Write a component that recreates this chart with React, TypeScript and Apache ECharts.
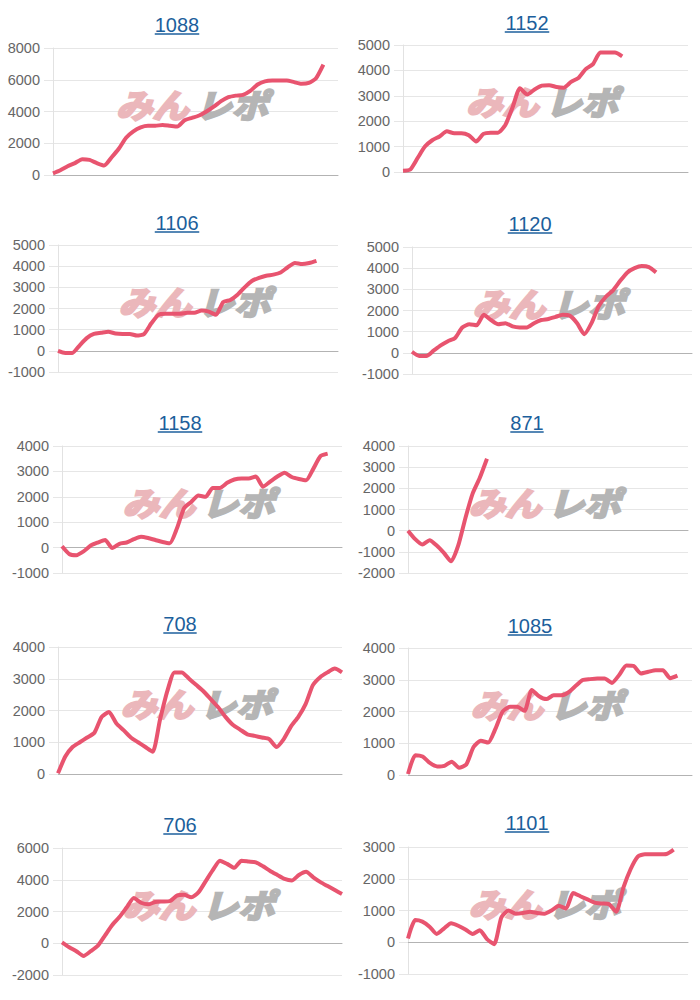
import React, { useEffect, useRef } from "react";
import * as echarts from "echarts";

// ---- data ----
const categories: string[] = Array.from({ length: 40 }, (_, i) => String(i + 1));

const titles = ["1088", "1152", "1106", "1120", "1158", "871", "708", "1085", "706", "1101"];

const s1088 = [100, 300, 550, 750, 1000, 950, 750, 600, 1100, 1650, 2350, 2750, 3000, 3100, 3100, 3150, 3100, 3050, 3450, 3600, 3750, 4000, 4300, 4650, 4900, 5000, 5050, 5300, 5700, 5900, 5950, 5950, 5950, 5850, 5750, 5800, 6100, 6950];
const s1152 = [50, 100, 550, 1000, 1250, 1400, 1600, 1530, 1530, 1450, 1200, 1500, 1550, 1550, 1850, 2550, 3300, 3050, 3250, 3400, 3420, 3350, 3320, 3550, 3700, 4050, 4250, 4700, 4700, 4700, 4550];
const s1106 = [0, -100, -100, 250, 600, 800, 850, 900, 820, 800, 800, 720, 800, 1300, 1700, 1750, 1750, 1750, 1800, 1800, 1900, 1850, 1700, 2300, 2400, 2650, 3000, 3300, 3450, 3550, 3600, 3700, 3950, 4150, 4100, 4150, 4250];
const s1120 = [50, -150, -150, 100, 350, 550, 700, 1200, 1350, 1300, 1800, 1550, 1350, 1400, 1250, 1200, 1200, 1400, 1550, 1600, 1700, 1800, 1750, 1400, 880, 1400, 2200, 2650, 2950, 3400, 3800, 4000, 4100, 4050, 3800];
const s1158 = [50, -250, -300, -150, 80, 200, 300, -20, 150, 200, 330, 430, 380, 300, 220, 170, 750, 1550, 1800, 2050, 2000, 2350, 2350, 2550, 2680, 2720, 2720, 2800, 2400, 2600, 2800, 2950, 2780, 2700, 2650, 3100, 3600, 3700];
const s871 = [0, -400, -650, -450, -700, -1050, -1450, -700, 600, 1750, 2500, 3400];
const s708 = [20, 550, 850, 1000, 1150, 1300, 1800, 1950, 1600, 1380, 1150, 1000, 850, 700, 1700, 2600, 3200, 3200, 3000, 2800, 2600, 2350, 2100, 1800, 1550, 1400, 1250, 1200, 1150, 1100, 850, 1100, 1500, 1800, 2200, 2800, 3050, 3200, 3320, 3200];
const s1085 = [30, 620, 580, 380, 270, 290, 420, 230, 330, 880, 1080, 1020, 1450, 2000, 2150, 2150, 2020, 2680, 2480, 2390, 2510, 2510, 2600, 2800, 2990, 3020, 3040, 3040, 2900, 3150, 3450, 3430, 3200, 3250, 3300, 3300, 3050, 3130];
const s706 = [60, -250, -500, -800, -500, -150, 500, 1150, 1650, 2250, 2850, 2550, 2450, 2600, 2630, 2650, 3000, 3050, 2900, 3200, 3900, 4600, 5200, 5000, 4750, 5200, 5150, 5100, 4850, 4550, 4300, 4050, 3950, 4300, 4500, 4150, 3850, 3600, 3350, 3100];
const s1101 = [120, 700, 650, 490, 260, 430, 600, 520, 400, 260, 380, 100, -60, 780, 1000, 900, 920, 960, 920, 900, 1000, 1150, 1060, 1550, 1450, 1350, 1250, 1220, 1200, 960, 1720, 2300, 2700, 2770, 2770, 2770, 2780, 2920];

const seriesData = [s1088, s1152, s1106, s1120, s1158, s871, s708, s1085, s706, s1101];

// y-axis ranges
const yMins = [0, 0, -1000, -1000, -1000, -2000, 0, 0, -2000, -1000];
const yMaxs = [8000, 5000, 5000, 5000, 4000, 4000, 4000, 4000, 6000, 3000];
const yIntervals = [2000, 1000, 1000, 1000, 1000, 1000, 1000, 1000, 2000, 1000];

// ---- layout (pixels) ----
const layout = [
  { left: 53, right: 338, top: 48, tx: 177, ty: 25 },
  { left: 403, right: 688, top: 45, tx: 527, ty: 23 },
  { left: 58, right: 338, top: 245, tx: 177, ty: 223 },
  { left: 412, right: 692, top: 247, tx: 530, ty: 224 },
  { left: 62, right: 342, top: 446, tx: 180, ty: 423 },
  { left: 408, right: 688, top: 446, tx: 527, ty: 423 },
  { left: 58, right: 342, top: 647, tx: 180, ty: 624 },
  { left: 408, right: 692, top: 648, tx: 530, ty: 626 },
  { left: 62, right: 342, top: 848, tx: 180, ty: 825 },
  { left: 408, right: 688, top: 847, tx: 527, ty: 823 },
];
const PLOT_H = 127;

const FONT = '"Liberation Sans", Arial, Helvetica, sans-serif';
const LINE_COLOR = "#e8546f";
const TITLE_COLOR = "#1c5f9c";

export default function App() {
  const ref = useRef<HTMLDivElement>(null);

  useEffect(() => {
    if (!ref.current) return;
    const chart = echarts.init(ref.current, undefined, { renderer: "svg" });

    const grids: any[] = [];
    const xAxes: any[] = [];
    const yAxes: any[] = [];
    const series: any[] = [];
    const graphics: any[] = [];

    layout.forEach((L, i) => {
      grids.push({
        left: L.left,
        top: L.top,
        width: L.right - L.left,
        height: PLOT_H,
      });
      xAxes.push({
        type: "category",
        gridIndex: i,
        data: categories,
        boundaryGap: false,
        axisLabel: { show: false },
        axisTick: { show: false },
        axisLine: { show: true, onZero: true, lineStyle: { color: "#b3b3b3", width: 1 } },
        splitLine: { show: false },
      });
      yAxes.push({
        type: "value",
        gridIndex: i,
        min: yMins[i],
        max: yMaxs[i],
        interval: yIntervals[i],
        axisLabel: {
          color: "#666",
          fontSize: 14.5,
          fontFamily: FONT,
          margin: 13,
          formatter: (v: number) => String(v),
        },
        axisLine: { show: true, lineStyle: { color: "#e2e2e2" } },
        axisTick: { show: true, length: 9, lineStyle: { color: "#e6e6e6" } },
        splitLine: { show: true, lineStyle: { color: "#e6e6e6", width: 1 } },
      });
      series.push({
        type: "line",
        xAxisIndex: i,
        yAxisIndex: i,
        data: seriesData[i],
        showSymbol: false,
        smooth: 0.2,
        z: 3,
        lineStyle: { color: LINE_COLOR, width: 4 },
        itemStyle: { color: LINE_COLOR },
      });

      // title (underlined link style)
      const fs = 20;
      const w = titles[i].length * 0.556 * fs;
      graphics.push({
        type: "text",
        x: L.tx,
        y: L.ty,
        z: 10,
        style: {
          text: titles[i],
          fill: TITLE_COLOR,
          font: `${fs}px ${FONT}`,
          textAlign: "center",
          textVerticalAlign: "middle",
        },
      });
      graphics.push({
        type: "line",
        z: 10,
        shape: { x1: L.tx - w / 2, y1: L.ty + 9, x2: L.tx + w / 2, y2: L.ty + 9 },
        style: { stroke: TITLE_COLOR, lineWidth: 1.5 },
      });

      // watermark
      const cx = (L.left + L.right) / 2 - 2;
      const cy = L.top + 56;
      graphics.push({
        type: "text",
        x: cx - 5,
        y: cy,
        z: 1,
        scaleX: 1.1,
        style: {
          text: "みん",
          fill: "#ebb7bb",
          stroke: "#ebb7bb",
          lineWidth: 2.5,
          font: `italic bold 33px "Noto Sans CJK JP", sans-serif`,
          textAlign: "right",
          textVerticalAlign: "middle",
        },
      });
      graphics.push({
        type: "text",
        x: cx + 2,
        y: cy,
        z: 1,
        scaleX: 1.1,
        style: {
          text: "レポ",
          fill: "#b5b5b5",
          stroke: "#b5b5b5",
          lineWidth: 2.5,
          font: `italic bold 33px "Noto Sans CJK JP", sans-serif`,
          textAlign: "left",
          textVerticalAlign: "middle",
        },
      });
    });

    chart.setOption({
      animation: false,
      backgroundColor: "#ffffff",
      grid: grids,
      xAxis: xAxes,
      yAxis: yAxes,
      series,
      graphic: graphics,
    });

    return () => chart.dispose();
  }, []);

  return (
    <div
      ref={ref}
      style={{ position: "absolute", left: 0, top: 0, width: 700, height: 1000 }}
    />
  );
}
